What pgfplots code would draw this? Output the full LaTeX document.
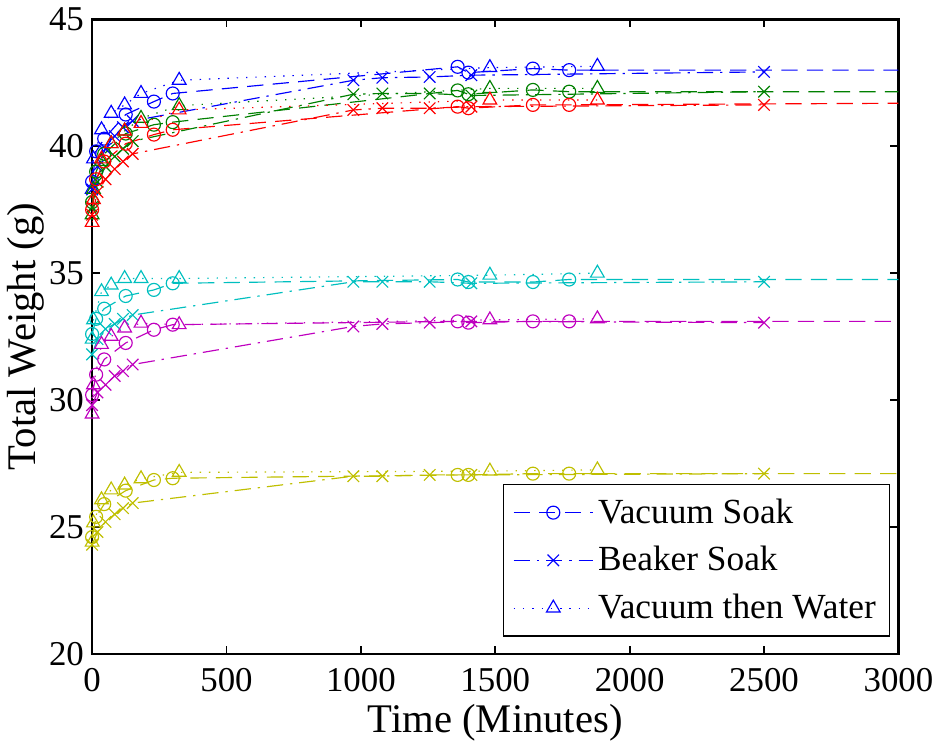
\documentclass[border=0pt]{standalone}
\usepackage{fontspec}
\setmainfont{Liberation Serif}
\usepackage{pgfplots}
\usepackage{pgfplotstable}
\pgfplotsset{compat=1.18}

\definecolor{mblue}{rgb}{0,0,1}
\definecolor{mgreen}{rgb}{0,0.5,0}
\definecolor{mred}{rgb}{1,0,0}
\definecolor{mcyan}{rgb}{0,0.75,0.75}
\definecolor{mmagenta}{rgb}{0.75,0,0.75}
\definecolor{myellow}{rgb}{0.75,0.75,0}

% vacuum soak (last row lies past the axis, only its line shows)
\pgfplotstableread{
t    blue  green red   cyan  magenta yellow
0    38.6  37.8  37.5  32.6  30.2  24.6
15   39.8  39.0  38.7  33.2  31.0  25.4
45   40.3  39.7  39.4  33.6  31.6  25.9
125  41.25 40.5  40.1  34.1  32.25 26.43
230  41.76 40.85 40.46 34.34 32.77 26.85
300  42.08 40.95 40.65 34.6  32.97 26.92
1360 43.13 42.2  41.56 34.75 33.1  27.05
1400 42.9  42.05 41.5  34.65 33.05 27.05
1640 43.06 42.22 41.63 34.65 33.1  27.1
1775 43.0  42.15 41.63 34.75 33.1  27.1
3500 43.0  42.15 41.72 34.75 33.1  27.1
}\vacsoak

% beaker soak
\pgfplotstableread{
t    blue  green red   cyan  magenta yellow
0    38.3  37.6  37.3  31.8  29.8  24.3
20   39.2  38.6  38.2  32.4  30.3  24.8
50   39.9  39.2  38.7  32.8  30.6  25.2
84   40.4  39.6  39.1  33.0  30.95 25.5
115  40.75 39.9  39.4  33.2  31.14 25.74
151  41.0  40.2  39.7  33.35 31.4  25.94
972  42.6  42.05 41.43 34.66 32.9  27.0
1080 42.7  42.08 41.5  34.66 33.0  27.0
1256 42.73 42.08 41.5  34.66 33.05 27.05
1411 42.8  42.0  41.56 34.6  33.1  27.05
2500 42.93 42.15 41.63 34.66 33.05 27.1
}\beaker

% vacuum then water
\pgfplotstableread{
t    blue  green red   cyan  magenta yellow
0    38.3  37.3  37.0  32.4  29.45 24.4
5    39.5  38.3  37.9  33.16 30.6  25.16
35   40.65 39.4  39.5  34.27 32.19 26.07
71   41.3  40.1  40.1  34.53 32.51 26.46
121  41.63 40.6  40.6  34.79 32.84 26.65
182  42.08 41.1  40.9  34.79 33.03 26.9
324  42.6  41.6  41.43 34.79 32.97 27.15
1480 43.1  42.28 41.82 34.92 33.16 27.2
1880 43.15 42.28 41.82 35.0  33.2  27.25
}\vacwater

\pgfplotsset{
  vs/.style={dash pattern=on 7pt off 4pt, mark=o, mark size=2.8pt, mark options={solid}},
  bs/.style={dash pattern=on 7pt off 3pt on 1pt off 3pt, mark=x, mark size=3.5pt, mark options={solid}},
  vw/.style={dash pattern=on 0.6pt off 3.4pt, mark=triangle, mark size=3.4pt, mark options={solid}},
}

\begin{document}
\begin{tikzpicture}
\begin{axis}[
    width=12.2cm, height=9.6cm, scale only axis,
    xmin=0, xmax=3000, ymin=20, ymax=45,
    xtick={0,500,...,3000}, ytick={20,25,...,45},
    minor tick num=0,
    tick align=inside,
    major tick length=3.5pt,
    tick style={black, line width=0.8pt},
    axis line style={line width=1.1pt},
    scaled ticks=false,
    /pgf/number format/1000 sep={},
    /pgf/number format/assume math mode=true,
    tick label style={font=\fontsize{15}{17}\selectfont},
    xticklabel style={yshift=-2.5pt},
    label style={font=\fontsize{17.5}{20}\selectfont},
    xlabel={Time (Minutes)},
    ylabel={Total Weight (g)},
    xlabel shift=-1.5pt,
    ylabel shift=-5pt,
    every axis plot/.append style={line width=0.5pt},
    legend style={at={(0.99,0.027)}, anchor=south east, draw=black,
        line width=0.6pt, font=\fontsize{15.2}{17}\selectfont,
        row sep=4.5pt, inner xsep=4pt, inner ysep=4pt},
    legend cell align=left,
    legend image code/.code={
        \draw[mark repeat=2, mark phase=2] plot coordinates {(0cm,0cm) (0.6cm,0cm) (1.2cm,0cm)};},
]
\addplot[mblue, vs] table[x=t, y=blue] {\vacsoak};
\addlegendentry{Vacuum Soak}
\addplot[mblue, bs] table[x=t, y=blue] {\beaker};
\addlegendentry{Beaker Soak}
\addplot[mblue, vw] table[x=t, y=blue] {\vacwater};
\addlegendentry{Vacuum then Water}

\addplot[mgreen, vs, forget plot] table[x=t, y=green] {\vacsoak};
\addplot[mgreen, bs, forget plot] table[x=t, y=green] {\beaker};
\addplot[mgreen, vw, forget plot] table[x=t, y=green] {\vacwater};

\addplot[mred, vs, forget plot] table[x=t, y=red] {\vacsoak};
\addplot[mred, bs, forget plot] table[x=t, y=red] {\beaker};
\addplot[mred, vw, forget plot] table[x=t, y=red] {\vacwater};

\addplot[mcyan, vs, forget plot] table[x=t, y=cyan] {\vacsoak};
\addplot[mcyan, bs, forget plot] table[x=t, y=cyan] {\beaker};
\addplot[mcyan, vw, forget plot] table[x=t, y=cyan] {\vacwater};

\addplot[mmagenta, vs, forget plot] table[x=t, y=magenta] {\vacsoak};
\addplot[mmagenta, bs, forget plot] table[x=t, y=magenta] {\beaker};
\addplot[mmagenta, vw, forget plot] table[x=t, y=magenta] {\vacwater};

\addplot[myellow, vs, forget plot] table[x=t, y=yellow] {\vacsoak};
\addplot[myellow, bs, forget plot] table[x=t, y=yellow] {\beaker};
\addplot[myellow, vw, forget plot] table[x=t, y=yellow] {\vacwater};
\end{axis}
\end{tikzpicture}
\end{document}
